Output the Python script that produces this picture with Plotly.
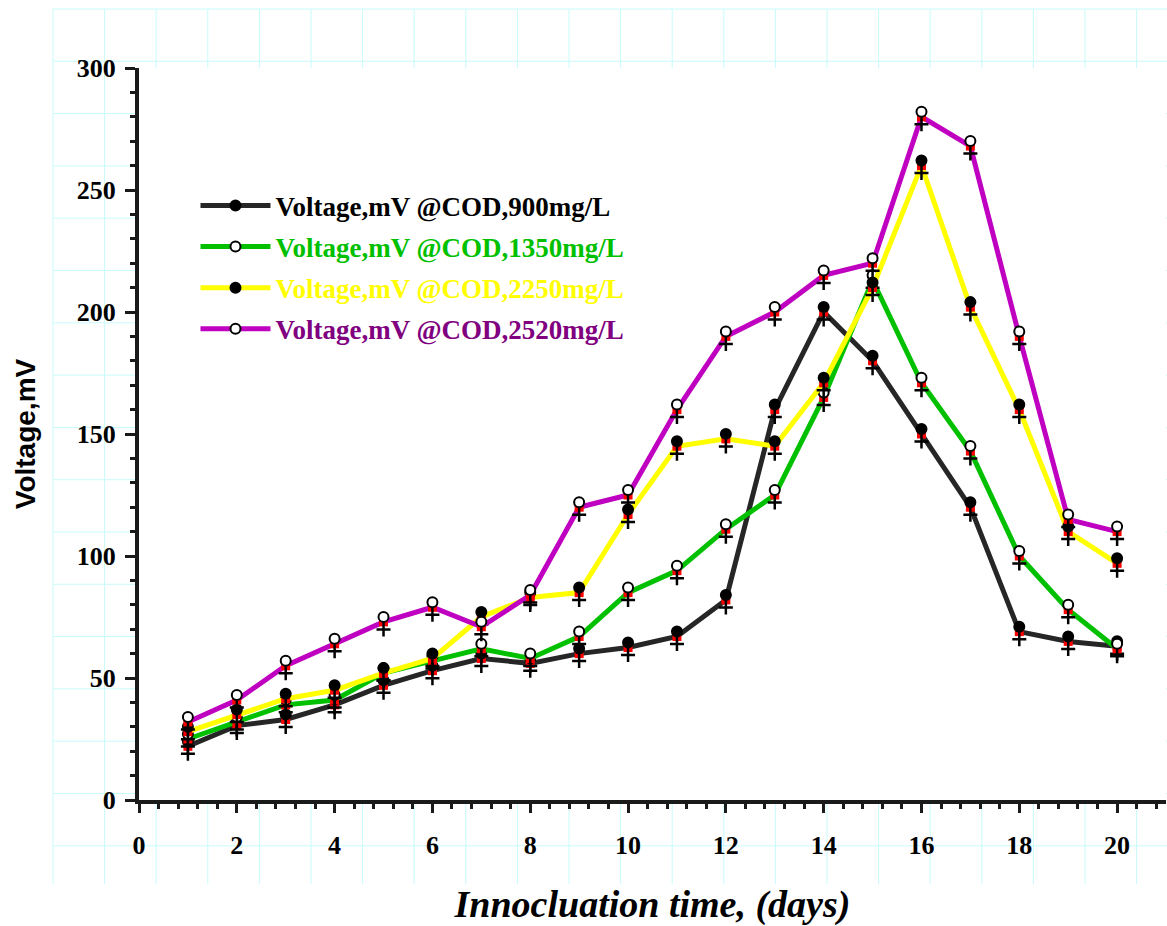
import plotly.graph_objects as go

# ---------------- data ----------------
days = list(range(1, 21))
cod_900 = [22, 30.5, 33, 39, 47, 53, 58, 56, 60, 62.5, 67, 82, 160, 200, 180, 150, 120, 69, 65, 63]
cod_1350 = [25, 32, 39, 41, 52, 57, 62, 58, 67, 85, 94, 111, 125, 165, 213, 171, 143, 100, 78, 62]
cod_2250 = [28, 35, 41.5, 45, 52, 58, 75, 83, 85, 117, 145, 148, 145, 171, 210, 260, 202, 160, 110, 97]
cod_2520 = [32, 41, 55, 64, 73, 79, 71, 84, 120, 125, 160, 190, 200, 215, 220, 280, 268, 190, 115, 110]

series_names = ["Voltage,mV @COD,900mg/L", "Voltage,mV @COD,1350mg/L",
                "Voltage,mV @COD,2250mg/L", "Voltage,mV @COD,2520mg/L"]
series_values = [cod_900, cod_1350, cod_2250, cod_2520]
line_colors = ["#262626", "#00c000", "#ffff00", "#c000c0"]
text_colors = ["#000000", "#00c000", "#ffff00", "#800080"]
circle_fill = ["black", "white", "black", "white"]

x_tick_labels = [str(v) for v in range(0, 21, 2)]
y_tick_labels = [str(v) for v in range(0, 301, 50)]

# ---------------- layout geometry ----------------
W, H = 1167, 926
ML, MR, MT, MB = 139, 1, 68, 126
PW, PH = W - ML - MR, H - MT - MB
XMAX, YMAX = 21, 300
unit_per_px = YMAX / PH
circ_dy = 5 * unit_per_px     # circle sits a few pixels above point
plus_dy = 7.5 * unit_per_px   # plus sits a few pixels below point

fig = go.Figure()

for name, vals, lc, tc, cf in zip(series_names, series_values, line_colors, text_colors, circle_fill):
    fig.add_trace(go.Scatter(x=days, y=vals, mode="lines", line=dict(color=lc, width=5),
                             showlegend=False, hoverinfo="skip"))
    fig.add_trace(go.Scatter(x=days, y=vals, mode="markers",
                             marker=dict(symbol="square", size=9, color="#ff0000", line=dict(width=0)),
                             showlegend=False, hoverinfo="skip"))
    fig.add_trace(go.Scatter(x=days, y=[v - plus_dy for v in vals], mode="markers",
                             marker=dict(symbol="cross-thin", size=10, line=dict(color="black", width=2.5)),
                             showlegend=False, hoverinfo="skip"))
    fig.add_trace(go.Scatter(x=days, y=[v + circ_dy for v in vals], mode="markers",
                             marker=dict(symbol="circle", size=10, color=cf, line=dict(color="black", width=2)),
                             showlegend=False, hoverinfo="skip"))
    # legend entry
    fig.add_trace(go.Scatter(x=[None], y=[None], mode="lines+markers",
                             name=f'<span style="color:{tc}">{name}</span>',
                             line=dict(color=lc, width=5),
                             marker=dict(symbol="circle", size=10, color=cf, line=dict(color="black", width=2)),
                             legendgroup=name))

# ---------------- graph-paper background ----------------
def px2paper_x(px):
    return (px - ML) / PW

def py2paper_y(py):
    return (H - MB - py) / PH

shapes = []
grid_color = "#c8fbfb"
gx0, gstepx = 53.0, 51.6
gy0, gstepy = 9.0, 52.3
k = 0
while gx0 + k * gstepx < W:
    xp = px2paper_x(gx0 + k * gstepx)
    shapes.append(dict(type="line", xref="paper", yref="paper", x0=xp, x1=xp,
                       y0=py2paper_y(884), y1=py2paper_y(gy0),
                       line=dict(color=grid_color, width=1), layer="below"))
    k += 1
k = 0
while gy0 + k * gstepy < 885:
    yp = py2paper_y(gy0 + k * gstepy)
    shapes.append(dict(type="line", xref="paper", yref="paper", x0=px2paper_x(gx0), x1=px2paper_x(W),
                       y0=yp, y1=yp, line=dict(color=grid_color, width=1), layer="below"))
    k += 1
shapes.append(dict(type="rect", xref="paper", yref="paper", x0=0, x1=1, y0=0, y1=1,
                   fillcolor="white", line=dict(width=0), layer="below"))

tick_font = dict(family="Liberation Serif", size=26, color="black", weight="bold")
axis_col = "#1a1a1a"

top_minor = [round(i * 0.4, 1) for i in range(1, int(XMAX / 0.4) + 1) if i % 5 != 0]

fig.update_layout(
    width=W, height=H,
    margin=dict(l=ML, r=MR, t=MT, b=MB, pad=0, autoexpand=False),
    paper_bgcolor="white", plot_bgcolor="white",
    shapes=shapes,
    showlegend=True,
    legend=dict(x=0.055, y=0.845, xanchor="left", yanchor="top",
                bgcolor="rgba(0,0,0,0)", borderwidth=0,
                font=dict(family="Liberation Serif", size=27, color="black", weight="bold"),
                tracegroupgap=3, itemwidth=70),
    xaxis=dict(range=[0, XMAX], tickmode="array", tickvals=[int(t) for t in x_tick_labels],
               ticktext=x_tick_labels, ticks="outside", ticklen=9, tickwidth=3, tickcolor=axis_col,
               minor=dict(dtick=0.4, tick0=0, ticks="outside", ticklen=5, tickwidth=3, tickcolor=axis_col),
               showline=True, linewidth=4, linecolor=axis_col, showgrid=False, zeroline=False,
               tickfont=tick_font, ticklabelstandoff=10, automargin=False,
               title=dict(text="Innocluation time, (days)", standoff=38,
                          font=dict(family="Liberation Serif", size=38, color="black",
                                    weight="bold", style="italic"))),
    yaxis=dict(range=[0, YMAX], tickmode="array", tickvals=[int(t) for t in y_tick_labels],
               ticktext=y_tick_labels, ticks="outside", ticklen=10, tickwidth=3, tickcolor=axis_col,
               minor=dict(dtick=10, tick0=0, ticks="outside", ticklen=5, tickwidth=3, tickcolor=axis_col),
               showline=True, linewidth=4, linecolor=axis_col, showgrid=False, zeroline=False,
               tickfont=tick_font, ticklabelstandoff=4, automargin=False,
               title=dict(text="Voltage,mV", standoff=34,
                          font=dict(family="Liberation Sans", size=28, color="black", weight="bold"))),
    xaxis2=dict(range=[0, XMAX], overlaying="x", side="top", anchor="y", showline=True, linewidth=4,
                linecolor=axis_col, ticks="outside", tickmode="array", tickvals=top_minor,
                ticklen=6, tickwidth=3, tickcolor=axis_col, showticklabels=False,
                showgrid=False, zeroline=False, automargin=False),
    yaxis2=dict(range=[0, YMAX], overlaying="y", side="right", anchor="x", showline=True, linewidth=2,
                linecolor="#333333", ticks="", showticklabels=False, showgrid=False, zeroline=False,
                automargin=False),
)

fig.write_html("out.html")
